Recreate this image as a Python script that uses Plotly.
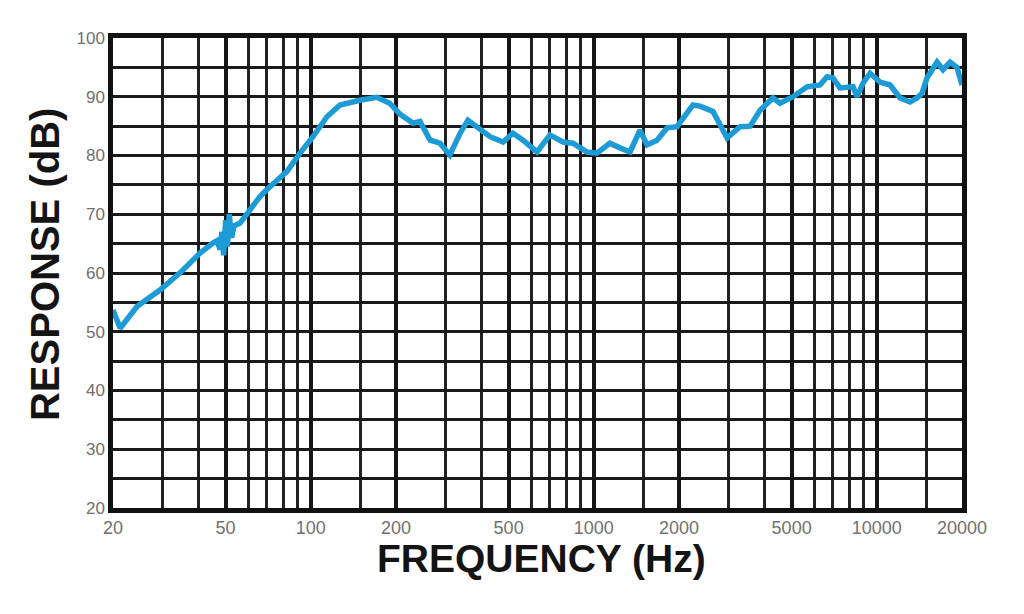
import plotly.graph_objects as go

# Frequency response
freq_hz = [20, 21.2, 24.3, 29.3, 35, 40.6, 45.1, 46.6, 47.8, 48.5, 49.2, 50.0, 50.7,
           51.5, 52.5, 53.5, 56.2, 61, 66.1, 70, 76, 82.4, 91.6, 101.8, 114, 126.8,
           149, 171, 190, 207, 230, 243, 264, 286, 310, 337, 359, 386, 430, 478,
           518, 562, 630, 700, 778, 844, 946, 1026, 1140, 1238, 1343, 1456, 1542,
           1672, 1815, 1968, 2134, 2240, 2373, 2636, 2957, 3288, 3566, 3866, 4296,
           4550, 5058, 5668, 6298, 6670, 6998, 7412, 8241, 8513, 8934, 9463, 10261,
           11140, 12087, 13106, 13869, 14448, 15037, 16324, 17135, 18145, 19200, 20000]
response_db = [53.7, 50.6, 54.3, 57.1, 60.3, 63.4, 65.1, 65.5, 64.0, 67.0, 63.0, 69.0, 64.5,
               70.0, 66.0, 68.0, 68.5, 70.8, 73.0, 74.2, 75.8, 77.3, 80.4, 83.2, 86.6, 88.6,
               89.4, 89.9, 88.9, 87.0, 85.5, 85.8, 82.6, 82.1, 80.1, 83.8, 86.0, 84.9, 83.2, 82.3,
               83.8, 82.6, 80.6, 83.5, 82.3, 82.1, 80.6, 80.4, 82.1, 81.3, 80.6, 84.3, 81.8,
               82.6, 84.7, 84.9, 87.2, 88.6, 88.4, 87.5, 83.0, 84.9, 85.0, 87.7, 89.8,
               88.9, 90.0, 91.7, 92.0, 93.4, 93.2, 91.5, 91.7, 90.0, 92.3, 94.0, 92.5,
               92.0, 89.8, 89.1, 89.8, 90.6, 93.2, 95.9, 94.6, 95.9, 95.0, 92.0]

x_tick_vals = [20, 50, 100, 200, 500, 1000, 2000, 5000, 10000, 20000]
x_tick_text = ["20", "50", "100", "200", "500", "1000", "2000", "5000", "10000", "20000"]
x_minor_vals = [30, 40, 60, 70, 80, 90, 150, 300, 400, 600, 700, 800, 900, 1500,
                3000, 4000, 6000, 7000, 8000, 9000, 15000]
y_tick_vals = [20, 30, 40, 50, 60, 70, 80, 90, 100]
y_minor_vals = [25, 35, 45, 55, 65, 75, 85, 95]

tick_font = dict(family="Liberation Sans, Arial, sans-serif", size=17, color="#707070")
title_font = "Liberation Sans, Arial, sans-serif"

fig = go.Figure()
fig.add_trace(go.Scatter(
    x=freq_hz, y=response_db, mode="lines",
    line=dict(color="#1c9bd6", width=5.5),
    showlegend=False, hoverinfo="x+y",
))

fig.update_layout(
    width=1024, height=614,
    margin=dict(l=113, r=62, t=38, b=106),
    paper_bgcolor="white", plot_bgcolor="white",
    xaxis=dict(
        type="log", range=[1.30103, 4.30103],
        tickmode="array", tickvals=x_tick_vals, ticktext=x_tick_text,
        showgrid=True, gridcolor="#151515", gridwidth=3.5,
        minor=dict(tickmode="array", tickvals=x_minor_vals, showgrid=True,
                   gridcolor="#222222", gridwidth=2.5, ticks=""),
        showline=True, linecolor="#111111", linewidth=4.5, mirror=True,
        ticks="", ticklabelstandoff=0, tickfont=dict(tick_font, size=18),
        zeroline=False,
    ),
    yaxis=dict(
        range=[20, 100],
        tickmode="array", tickvals=y_tick_vals,
        showgrid=True, gridcolor="#1a1a1a", gridwidth=2.5,
        minor=dict(tickmode="array", tickvals=y_minor_vals, showgrid=True,
                   gridcolor="#1a1a1a", gridwidth=2.5, ticks=""),
        showline=True, linecolor="#111111", linewidth=4.5, mirror=True,
        ticks="", ticklabelstandoff=0, tickfont=tick_font,
        zeroline=False,
    ),
    shapes=[dict(type="line", xref="paper", x0=0, x1=1, yref="y", y0=50, y1=50,
                 line=dict(color="#2e2e6e", width=2.5), layer="between")],
    annotations=[
        dict(text="<b>FREQUENCY (Hz)</b>", xref="paper", yref="paper",
             x=0.5, y=-0.1085, xanchor="center", yanchor="middle", showarrow=False,
             xshift=4,
             font=dict(family=title_font, size=39, color="#141414")),
        dict(text="<b>RESPONSE (dB)</b>", xref="paper", yref="paper",
             x=-0.0518, y=0.5, xanchor="right", yanchor="middle", showarrow=False,
             textangle=-90, yshift=8,
             font=dict(family=title_font, size=40, color="#141414")),
    ],
)

fig.write_html("out.html", post_script="document.body.style.margin='0';",
               config={"displayModeBar": False})
